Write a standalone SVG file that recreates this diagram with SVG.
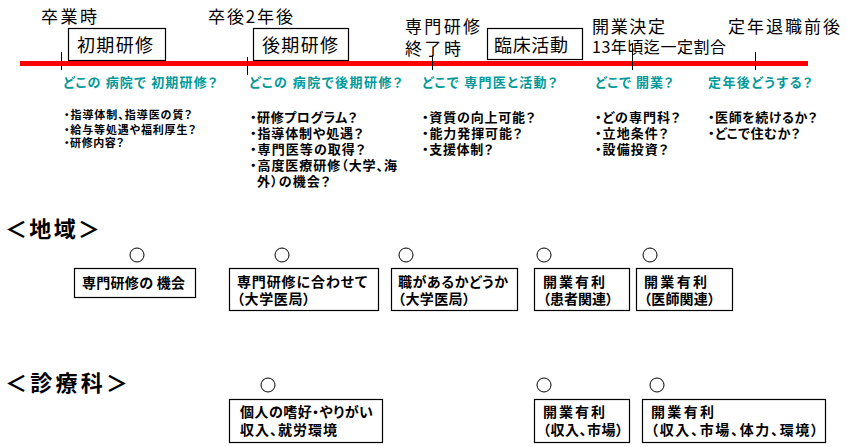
<svg xmlns="http://www.w3.org/2000/svg" width="846" height="447" viewBox="0 0 846 447">
<style>
text{font-family:"Noto Sans CJK JP","Noto Sans CJK SC",sans-serif;fill:#000;font-feature-settings:"palt"}
.tl{font-size:17px}
.bx{font-size:18px}
.q{font-size:13px;font-weight:bold;fill:#009999}
.b1{font-size:11px;font-weight:bold}
.b2{font-size:13px;font-weight:bold}
.hd{font-size:22px;font-weight:bold}
.nt{font-size:14px;font-weight:bold}
rect{fill:#fff;stroke:#000;stroke-width:1.2}
circle{fill:#fff;stroke:#000;stroke-width:1}
.tick{stroke:#000;stroke-width:1}
</style>
<rect width="846" height="447" style="stroke:none"/>
<g id="timeline">
<line x1="20" y1="63.5" x2="808" y2="63.5" stroke="#ff0000" stroke-width="5"/>
<line class="tick" x1="61.5" y1="52" x2="61.5" y2="70"/>
<line class="tick" x1="247.5" y1="57" x2="247.5" y2="75"/>
<line class="tick" x1="432.5" y1="55" x2="432.5" y2="70"/>
<line class="tick" x1="632.5" y1="43" x2="632.5" y2="70"/>
<line class="tick" x1="755.5" y1="52" x2="755.5" y2="70"/>
</g>
<g id="labels">
<text class="tl" x="41" y="23" textLength="56">卒業時</text>
<text class="tl" x="208" y="23" textLength="85">卒後2年後</text>
<text class="tl" x="405" y="33" textLength="75">専門研修</text>
<text class="tl" x="405" y="55" textLength="56">終了時</text>
<text class="tl" x="592" y="33" textLength="73">開業決定</text>
<text class="tl" x="592" y="53" textLength="134" style="font-size:16px">13年頃迄一定割合</text>
<text class="tl" x="728" y="33" textLength="112">定年退職前後</text>
</g>
<g id="phase1"><rect x="68.5" y="28.5" width="97" height="32"/><text class="bx" x="77" y="52" textLength="76">初期研修</text></g>
<g id="phase2"><rect x="253.5" y="28.5" width="95" height="32"/><text class="bx" x="262" y="52" textLength="76">後期研修</text></g>
<g id="phase3"><rect x="487.5" y="28.5" width="95" height="31"/><text class="bx" x="494" y="52" textLength="74">臨床活動</text></g>
<g id="questions">
<text class="q" x="63" y="87" textLength="154">どこの 病院で 初期研修？</text>
<text class="q" x="249" y="87" textLength="153">どこの 病院で後期研修？</text>
<text class="q" x="422" y="87" textLength="135">どこで 専門医と活動？</text>
<text class="q" x="595" y="87" textLength="78">どこで 開業？</text>
<text class="q" x="708" y="87" textLength="104">定年後どうする？</text>
</g>
<g id="bullets1">
<text class="b1" x="64" y="119" textLength="128">・指導体制、指導医の質？</text>
<text class="b1" x="64" y="134" textLength="132">・給与等処遇や福利厚生？</text>
<text class="b1" x="64" y="147" textLength="60">・研修内容？</text>
</g>
<g id="bullets2">
<text class="b2" x="250" y="122" textLength="107">・研修プログラム？</text>
<text class="b2" x="250" y="138" textLength="113">・指導体制や処遇？</text>
<text class="b2" x="250" y="154" textLength="115">・専門医等の取得？</text>
<text class="b2" x="250" y="170" textLength="147">・高度医療研修（大学、海</text>
<text class="b2" x="257" y="186" textLength="73">外）の機会？</text>
</g>
<g id="bullets3">
<text class="b2" x="422" y="122" textLength="113">・資質の向上可能？</text>
<text class="b2" x="422" y="138" textLength="100">・能力発揮可能？</text>
<text class="b2" x="422" y="154" textLength="71">・支援体制？</text>
</g>
<g id="bullets4">
<text class="b2" x="595" y="122" textLength="85">・どの専門科？</text>
<text class="b2" x="595" y="138" textLength="73">・立地条件？</text>
<text class="b2" x="595" y="154" textLength="73">・設備投資？</text>
</g>
<g id="bullets5">
<text class="b2" x="708" y="122" textLength="109">・医師を続けるか？</text>
<text class="b2" x="708" y="138" textLength="92">・どこで住むか？</text>
</g>
<g id="header-region"><text class="hd" x="5" y="237" textLength="95">＜地域＞</text></g>
<g id="header-specialty"><text class="hd" x="5" y="391" textLength="123">＜診療科＞</text></g>
<g id="r1">
<circle cx="137" cy="255" r="7"/>
<rect x="74.5" y="268.5" width="121" height="29"/>
<text class="nt" x="82" y="288" textLength="103">専門研修の 機会</text>
</g>
<g id="r2">
<circle cx="282" cy="255" r="7"/>
<rect x="229.5" y="268.5" width="149" height="42"/>
<text class="nt" x="237" y="287" textLength="130">専門研修に合わせて</text>
<text class="nt" x="237" y="304" textLength="73">（大学医局）</text>
</g>
<g id="r3">
<circle cx="406" cy="255" r="7"/>
<rect x="391.5" y="268.5" width="126" height="42"/>
<text class="nt" x="398" y="287" textLength="110">職があるかどうか</text>
<text class="nt" x="398" y="304" textLength="72">（大学医局）</text>
</g>
<g id="r4">
<circle cx="544" cy="255" r="7"/>
<rect x="534.5" y="268.5" width="95" height="42"/>
<text class="nt" x="543" y="287" textLength="62">開業有利</text>
<text class="nt" x="543" y="304" textLength="70">（患者関連）</text>
</g>
<g id="r5">
<circle cx="650" cy="255" r="7"/>
<rect x="636.5" y="268.5" width="96" height="42"/>
<text class="nt" x="644" y="287" textLength="63">開業有利</text>
<text class="nt" x="644" y="304" textLength="71">（医師関連）</text>
</g>
<g id="s1">
<circle cx="268" cy="385" r="7"/>
<rect x="229.5" y="399.5" width="153" height="43"/>
<text class="nt" x="240" y="417" textLength="133">個人の嗜好・やりがい</text>
<text class="nt" x="240" y="435" textLength="97">収入、就労環境</text>
</g>
<g id="s2">
<circle cx="544" cy="385" r="7"/>
<rect x="534.5" y="399.5" width="95" height="43"/>
<text class="nt" x="543" y="417" textLength="62">開業有利</text>
<text class="nt" x="543" y="435" textLength="80">（収入、市場）</text>
</g>
<g id="s3">
<circle cx="657" cy="385" r="7"/>
<rect x="642.5" y="399.5" width="183" height="43"/>
<text class="nt" x="651" y="417" textLength="63">開業有利</text>
<text class="nt" x="651" y="435" textLength="167">（収入、市場、体力、環境）</text>
</g>
</svg>
